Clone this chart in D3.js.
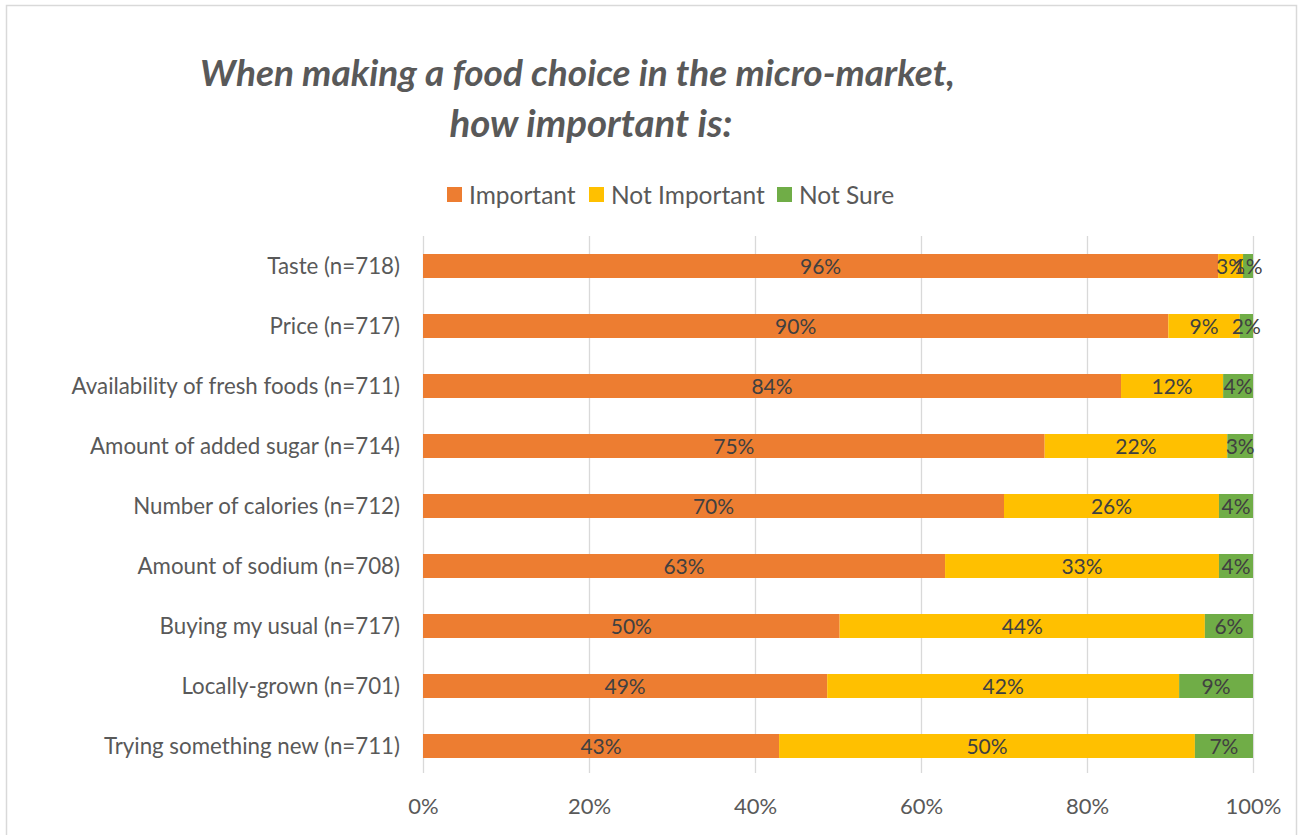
<!DOCTYPE html>
<html><head><meta charset="utf-8">
<script src="https://cdn.jsdelivr.net/npm/d3@7"></script>
<style>html,body{margin:0;padding:0;background:#fff;} svg{display:block;}</style>
</head><body>
<svg id="chart" width="1300" height="835"></svg>
<script>
const categories = ["Taste (n=718)","Price (n=717)","Availability of fresh foods (n=711)","Amount of added sugar (n=714)","Number of calories (n=712)","Amount of sodium (n=708)","Buying my usual (n=717)","Locally-grown (n=701)","Trying something new (n=711)"];
const seriesNames = ["Important","Not Important","Not Sure"];
const important    = [95.8, 89.8, 84.1, 74.9, 70.0, 62.9, 50.2, 48.7, 42.9];
const notImportant = [3.0, 8.6, 12.3, 22.0, 25.9, 33.0, 44.0, 42.4, 50.1];
const notSure      = [1.2, 1.6, 3.6, 3.1, 4.1, 4.1, 5.8, 8.9, 7.0];
const xTicks = [0, 0.2, 0.4, 0.6, 0.8, 1.0];
const colors = ["#ED7D31", "#FFC000", "#70AD47"];
const titleLines = ["When making a food choice in the micro-market,", "how important is:"];

const font = "Lato, 'Open Sans', sans-serif";
const svg = d3.select("#chart");

svg.append("rect").attr("x",6.5).attr("y",5.5).attr("width",1290).attr("height",840)
  .attr("fill","#fff").attr("stroke","#d9d9d9").attr("stroke-width",1.5);

const rows = categories.map((c,i)=>({cat:c, "Important":important[i], "Not Important":notImportant[i], "Not Sure":notSure[i]}));
const stack = d3.stack().keys(seriesNames).offset(d3.stackOffsetExpand);
const stacked = stack(rows);

const x = d3.scaleLinear().domain([0,1]).range([423,1253]);
const y = d3.scaleBand().domain(categories).range([236,776]).paddingInner(0.6).paddingOuter(0.3);
const color = d3.scaleOrdinal().domain(seriesNames).range(colors);

// gridlines
svg.append("g").selectAll("line").data(xTicks).join("line")
  .attr("x1",d=>x(d)+0.5).attr("x2",d=>x(d)+0.5).attr("y1",236).attr("y2",773)
  .attr("stroke","#d9d9d9").attr("stroke-width",1.3);

// bars
const layer = svg.append("g").selectAll("g").data(stacked).join("g").attr("fill",d=>color(d.key));
layer.selectAll("rect").data(d=>d).join("rect")
  .attr("x",d=>x(d[0])).attr("width",d=>x(d[1])-x(d[0]))
  .attr("y",d=>y(d.data.cat)).attr("height",y.bandwidth());

// labels
const fmt = d3.format(".0%");
const lab = svg.append("g").selectAll("g").data(stacked).join("g");
lab.selectAll("text").data(s=>s.map(d=>({d, key:s.key}))).join("text")
  .attr("x",o=>(x(o.d[0])+x(o.d[1]))/2).attr("y",o=>y(o.d.data.cat)+y.bandwidth()/2)
  .attr("dy","0.36em").attr("text-anchor","middle")
  .attr("font-family",font).attr("font-size",21).attr("fill","#404040")
  .text(o=>fmt(o.d.data[o.key]/100));

// y axis labels
const yAxis = d3.axisLeft(y).tickSize(0).tickPadding(23);
const yg = svg.append("g").attr("transform","translate(423,0)").call(yAxis);
yg.select(".domain").remove();
yg.selectAll("text").attr("font-family",font).attr("font-size",22.3).attr("fill","#595959").attr("dy","0.36em");

// x axis
const xAxis = d3.axisBottom(x).tickValues(xTicks).tickFormat(d3.format(".0%")).tickSize(0).tickPadding(0);
const xg = svg.append("g").attr("transform","translate(0,814)").call(xAxis);
xg.select(".domain").remove();
xg.selectAll("text").attr("font-family",font).attr("font-size",22).attr("fill","#595959").attr("dy","0").attr("y",0);

// title
svg.append("g").selectAll("text").data(titleLines).join("text")
  .attr("x",(d,i)=>i===0?577.5:591).attr("y",(d,i)=>i===0?86:137)
  .attr("text-anchor","middle").attr("font-family",font).attr("font-weight","bold").attr("font-style","italic")
  .attr("font-size",(d,i)=>i===0?37:38.5).attr("fill","#595959").text(d=>d);

// legend
const legendItems = [{k:"Important",x:447},{k:"Not Important",x:589},{k:"Not Sure",x:777}];
const lg = svg.append("g").selectAll("g").data(legendItems).join("g").attr("transform",d=>`translate(${d.x},187)`);
lg.append("rect").attr("width",15).attr("height",15).attr("fill",d=>color(d.k));
lg.append("text").attr("x",22).attr("y",8).attr("dy","0.36em").attr("font-family",font).attr("font-size",24.5)
  .attr("fill","#595959").text(d=>d.k);
</script>
</body></html>
